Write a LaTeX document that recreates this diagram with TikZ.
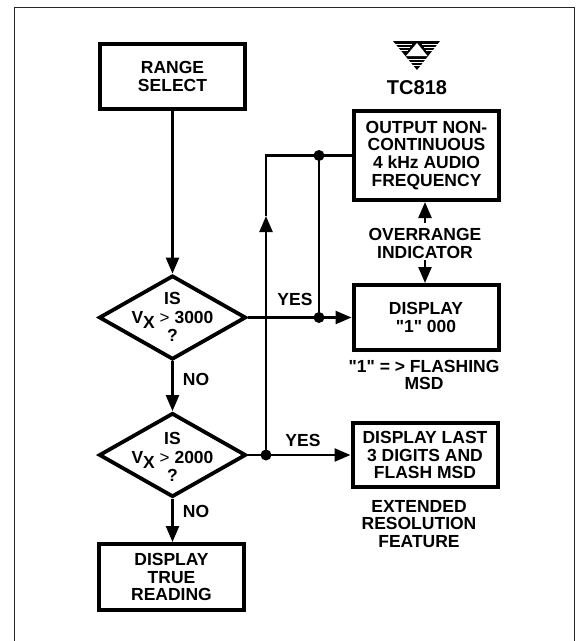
\documentclass[tikz,border=0pt]{standalone}
\usepackage{fontspec}
\setmainfont{Liberation Sans}
\usetikzlibrary{shapes.geometric,arrows.meta}
\tikzset{
  lab/.style={font=\fontsize{17.5}{17.8}\selectfont\bfseries,align=center,inner sep=0pt,text=black},
  flowbox/.style={lab,draw=black,line width=4pt,minimum width=145pt,rectangle,fill=white},
  decide/.style={diamond,draw=black,line width=3.8pt,inner sep=0pt,minimum width=147pt,minimum height=84pt,fill=white,aspect=1.75},
  wire/.style={draw=black,line width=2.4pt},
  arr/.style={wire,-{Triangle[length=16pt,width=13pt]}},
  junction/.style={circle,fill=black,inner sep=0pt,minimum size=11pt},
  frameline/.style={draw=black!85,line width=1pt}
}
\newcommand{\vx}[1]{IS\\[0.5pt]V\raisebox{-5pt}{X} {\fontsize{17}{17}\selectfont\mdseries >} #1\\[0.5pt]?}
\newcommand{\qt}{\XeTeXglyph\XeTeXcharglyph34\relax}
\begin{document}
\begin{tikzpicture}[x=1pt,y=-1pt]
\useasboundingbox (0,0) rectangle (576,641);
\fill[white] (0,0) rectangle (576,641);
\draw[frameline] (14,641) -- (14,7) -- (574,7) -- (574,641);

% logo
\fill[black] (393,41) -- (440,41) -- (417,70) -- cycle;
\fill[white] (417,43) -- (427.5,56) -- (406,56) -- cycle;
\foreach \yy/\xa/\xb in {44/393/412, 44/422/440, 47/396/410, 47/424/437, 50/398/408, 50/426/435, 59/407/427, 62/409/425, 65/411/423}
  \draw[white,line width=0.35pt] (\xa,\yy) -- (\xb,\yy);
\node[font=\fontsize{20}{20}\selectfont\bfseries,inner sep=0pt] (title) at (417,87.5) {TC818};

% boxes
\node[flowbox,minimum height=65pt] (range) at (172.5,76.5) {RANGE\\SELECT};
\node[flowbox,minimum height=89pt] (out) at (426.5,155.5) {OUTPUT NON-\\CONTINUOUS\\4 kHz AUDIO\\FREQUENCY};
\node[flowbox,minimum height=65pt] (disp) at (426,317.5) {DISPLAY\\\qt 1\qt{} 000};
\node[flowbox,minimum height=64pt] (last) at (425,455) {DISPLAY LAST\\3 DIGITS AND\\FLASH MSD};
\node[flowbox,minimum height=66pt] (true) at (171.5,577) {DISPLAY\\TRUE\\READING};

% decisions
\node[decide] (d1) at (172.5,317.5) {};
\node[decide] (d2) at (172.5,455) {};
\node[lab] (t1) at (172.5,317) {\vx{3000}};
\node[lab] (t2) at (172.5,457) {\vx{2000}};

% labels
\node[lab] (over) at (425,243.5) {OVERRANGE\\INDICATOR};
\node[lab] (flash) at (424,375) {\qt 1\qt{} = > FLASHING\\MSD};
\node[lab] (ext) at (419,524) {EXTENDED\\RESOLUTION\\FEATURE};
\node[lab] (yes1) at (295,299.5) {YES};
\node[lab] (yes2) at (303,440) {YES};
\node[lab] (no1) at (196,379) {NO};
\node[lab] (no2) at (196,511) {NO};

% junctions
\node[junction] (j1) at (319,317.5) {};
\node[junction] (j2) at (319,155.5) {};
\node[junction] (j3) at (266,455) {};
\coordinate (corner) at (266,155.5);
\coordinate (mid) at (266,216);
\coordinate (ovt) at (425,223);
\coordinate (ovb) at (425,260);

% connectors
\draw[arr] (range.south -| d1.north) -- (d1.north);
\draw[arr] (d1.south) -- (d2.north);
\draw[arr] (d2.south) -- (true.north -| d2.south);
\draw[wire] (d1.east) -- (j1.center);
\draw[arr] (j1.center) -- (disp.west);
\draw[wire] (d2.east) -- (j3.center);
\draw[arr] (j3.center) -- (last.west);
\draw[wire] (j1.center) -- (j2.center);
\draw[arr] (j3.center) -- (mid);
\draw[wire] (mid) -- (corner) -- (out.west);
\draw[arr] (ovt) -- (ovt |- out.south);
\draw[arr] (ovb) -- (ovb |- disp.north);
\end{tikzpicture}
\end{document}
